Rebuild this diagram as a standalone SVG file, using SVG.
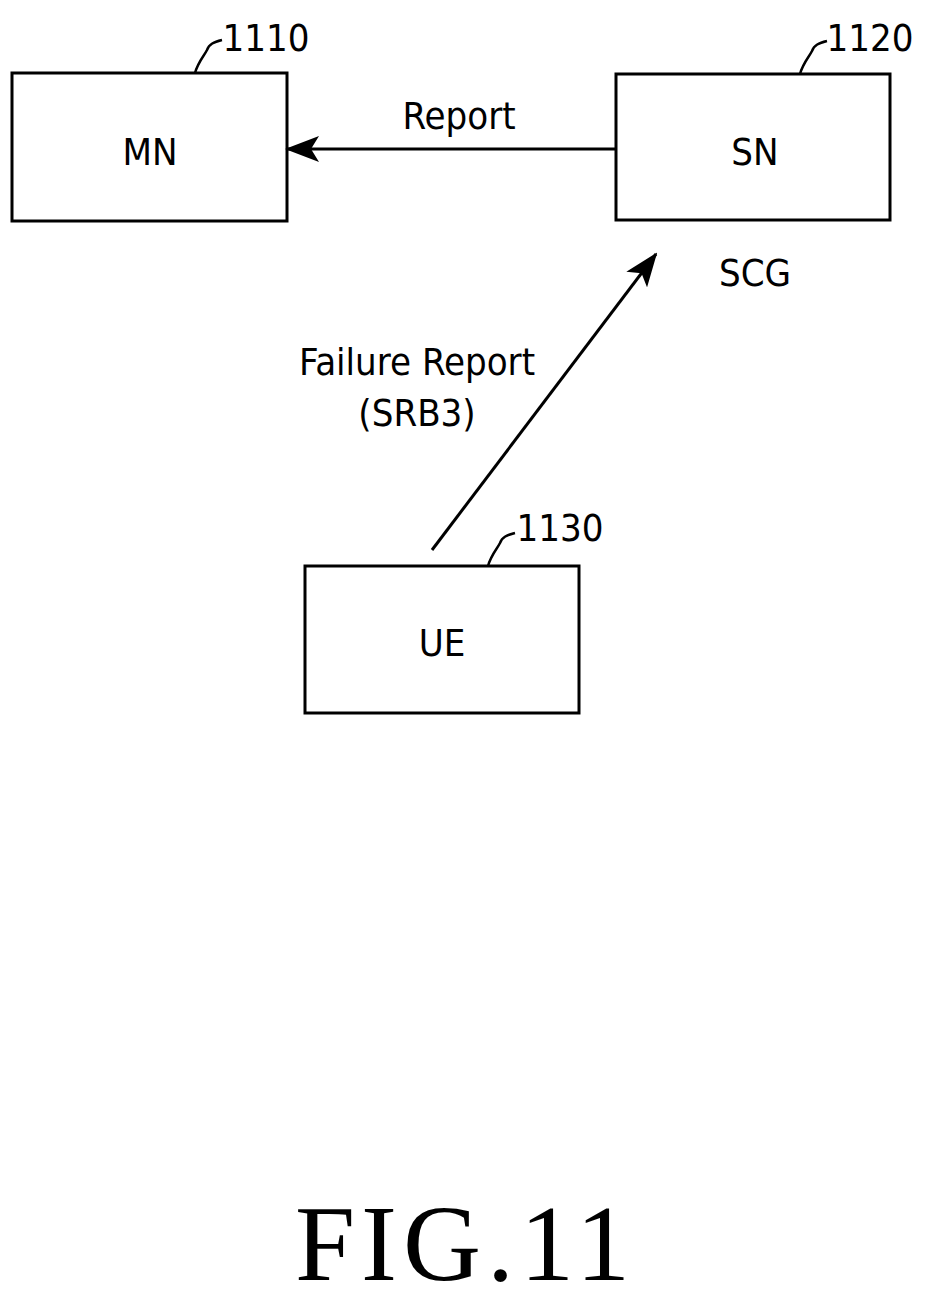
<svg xmlns="http://www.w3.org/2000/svg" width="925" height="1297" viewBox="0 0 925 1297">
<style>
.b{fill:#fff;stroke:#000;stroke-width:3}
.t{font-family:"DejaVu Sans Condensed","Liberation Sans Narrow","Liberation Sans",sans-serif;font-size:38px;text-anchor:middle;fill:#000}
.l{fill:none;stroke:#000;stroke-width:2.5}
</style>
<defs>
<marker id="h" markerWidth="34" markerHeight="26" refX="32" refY="13" orient="auto" markerUnits="userSpaceOnUse" viewBox="0 0 34 26"><path d="M0,0 L34,13 L0,26 L8,13 Z" fill="#000"/></marker></defs>
<rect width="925" height="1297" fill="#fff"/>
<g id="mn"><rect class="b" x="12" y="73" width="275" height="148"/><text class="t" x="150" y="165">MN</text>
<path class="l" d="M195,73 C198,62 204,56 207,50 C209,44 214,42 222,40"/><text class="t" x="266" y="51">1110</text></g>
<g id="sn"><rect class="b" x="616" y="74" width="274" height="146"/><text class="t" x="755" y="165">SN</text>
<path class="l" d="M800,74 C803,63 809,57 812,51 C814,45 819,43 827,41"/><text class="t" x="870" y="51">1120</text>
<text class="t" x="755" y="286">SCG</text></g>
<g id="ue"><rect class="b" x="305" y="566" width="274" height="147"/><text class="t" x="442" y="656">UE</text>
<path class="l" d="M488,566 C491,555 497,549 500,543 C502,537 507,535 515,533"/><text class="t" x="560" y="541">1130</text></g>
<g id="connectors">
<line x1="616" y1="149" x2="287" y2="149" stroke="#000" stroke-width="3" marker-end="url(#h)"/>
<text class="t" x="459" y="129">Report</text>
<line x1="432" y1="550" x2="656" y2="254" stroke="#000" stroke-width="3" marker-end="url(#h)"/>
<text class="t" x="417" y="375">Failure Report</text>
<text class="t" x="417" y="426">(SRB3)</text>
</g>
<text x="295" y="1280" font-family="Liberation Serif,serif" font-size="108" textLength="335" lengthAdjust="spacing">FIG.11</text>
</svg>
